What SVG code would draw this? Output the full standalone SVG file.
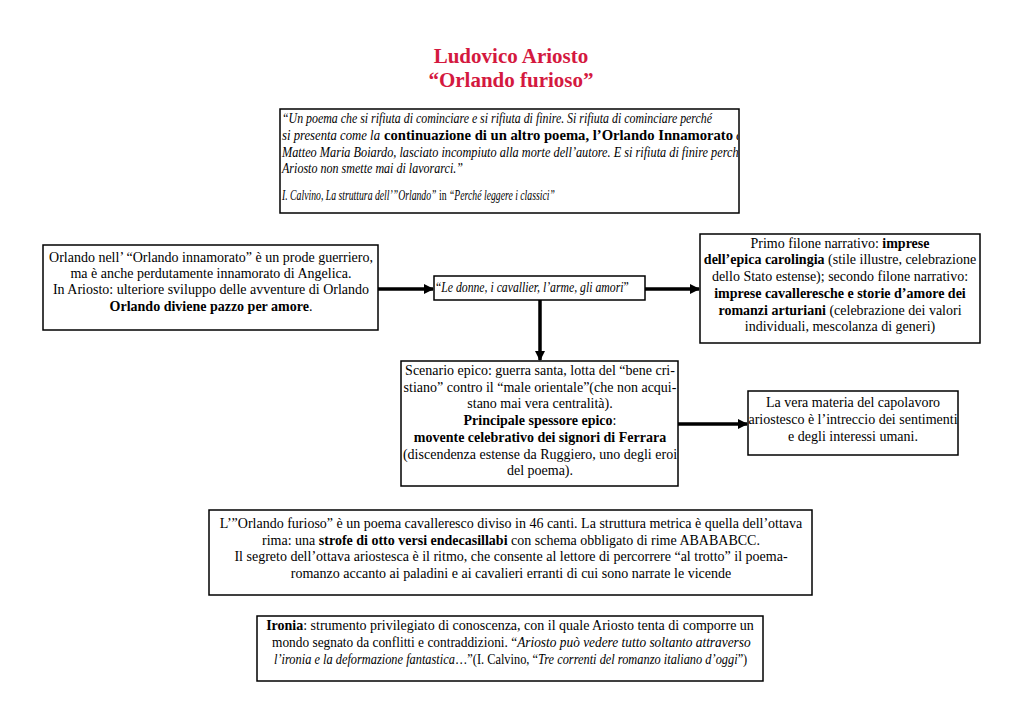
<svg xmlns="http://www.w3.org/2000/svg" width="1024" height="725" viewBox="0 0 1024 725">
<style>
.box{fill:#fff;stroke:#000;stroke-width:1.5}
.t{font-family:"Liberation Serif",serif;font-size:14px;fill:#000}
.c{text-anchor:middle}
.i{font-style:italic}
.b{font-weight:bold}
.title{font-family:"Liberation Serif",serif;font-size:21px;font-weight:bold;fill:#d4193f;text-anchor:middle}
.conn{stroke:#000;stroke-width:3.5;fill:none}
</style>
<defs>
<marker id="ah" markerWidth="10" markerHeight="10" refX="9" refY="5" orient="auto" markerUnits="userSpaceOnUse">
<path d="M0,0 L10,5 L0,10 Z" fill="#000"/>
</marker>
<clipPath id="qc"><rect x="281" y="110" width="457" height="102"/></clipPath>
</defs>
<rect width="1024" height="725" fill="#fff"/>
<g id="title">
<text class="title" x="511" y="63">Ludovico Ariosto</text>
<text class="title" x="511" y="87">“Orlando furioso”</text>
</g>
<g id="quote">
<rect class="box" x="280" y="109" width="459" height="104"/>
<g clip-path="url(#qc)">
<text class="t i" x="282" y="123" textLength="430" lengthAdjust="spacingAndGlyphs">“Un poema che si rifiuta di cominciare e si rifiuta di finire. Si rifiuta di cominciare perché</text>
<text class="t i" x="282" y="140" textLength="98" lengthAdjust="spacingAndGlyphs">si presenta come la</text>
<text class="t b" x="384" y="140" font-family="DejaVu Serif" font-size="13.5" textLength="349" lengthAdjust="spacingAndGlyphs">continuazione di un altro poema, l’Orlando Innamorato</text>
<text class="t i" x="736" y="140">di</text>
<text class="t i" x="282" y="157" textLength="462" lengthAdjust="spacingAndGlyphs">Matteo Maria Boiardo, lasciato incompiuto alla morte dell’autore. E si rifiuta di finire perché</text>
<text class="t i" x="282" y="173" textLength="181" lengthAdjust="spacingAndGlyphs">Ariosto non smette mai di lavorarci.”</text>
<text class="t i" x="0" y="0" font-size="10.5" transform="translate(282,200) scale(0.695,1)">I. Calvino, La struttura dell’”Orlando” <tspan font-style="normal">in</tspan> “Perché leggere i classici”</text>
</g>
</g>
<g id="orlando">
<rect class="box" x="43" y="245" width="335" height="85"/>
<text class="t c" x="211" y="262">Orlando nell’ “Orlando innamorato” è un prode guerriero,</text>
<text class="t c" x="211" y="278">ma è anche perdutamente innamorato di Angelica.</text>
<text class="t c" x="211" y="294">In Ariosto: ulteriore sviluppo delle avventure di Orlando</text>
<text class="t c" x="211" y="311"><tspan class="b">Orlando diviene pazzo per amore</tspan>.</text>
</g>
<g id="donne">
<rect class="box" x="434" y="276" width="211" height="24"/>
<text class="t" x="0" y="0" transform="translate(436,292) scale(0.84,1)">“<tspan class="i">Le donne, i cavallier, l’arme, gli amori</tspan>”</text>
</g>
<g id="filoni">
<rect class="box" x="700" y="234" width="280" height="109"/>
<text class="t c" x="840" y="248">Primo filone narrativo: <tspan class="b">imprese</tspan></text>
<text class="t c" x="840" y="264"><tspan class="b">dell’epica carolingia</tspan> (stile illustre, celebrazione</text>
<text class="t c" x="840" y="281">dello Stato estense); secondo filone narrativo:</text>
<text class="t c" x="840" y="298"><tspan class="b">imprese cavalleresche e storie d’amore dei</tspan></text>
<text class="t c" x="840" y="315"><tspan class="b">romanzi arturiani</tspan> (celebrazione dei valori</text>
<text class="t c" x="840" y="331">individuali, mescolanza di generi)</text>
</g>
<g id="scenario">
<rect class="box" x="401" y="361" width="277" height="125"/>
<text class="t c" x="540" y="375">Scenario epico: guerra santa, lotta del “bene cri-</text>
<text class="t c" x="540" y="392">stiano” contro il “male orientale”(che non acqui-</text>
<text class="t c" x="540" y="408">stano mai vera centralità).</text>
<text class="t c" x="540" y="425"><tspan class="b">Principale spessore epico</tspan>:</text>
<text class="t c b" x="540" y="442">movente celebrativo dei signori di Ferrara</text>
<text class="t c" x="540" y="459">(discendenza estense da Ruggiero, uno degli eroi</text>
<text class="t c" x="540" y="475">del poema).</text>
</g>
<g id="materia">
<rect class="box" x="748" y="391" width="210" height="64"/>
<text class="t c" x="853" y="407">La vera materia del capolavoro</text>
<text class="t c" x="853" y="424">ariostesco è l’intreccio dei sentimenti</text>
<text class="t c" x="853" y="441">e degli interessi umani.</text>
</g>
<g id="metrica">
<rect class="box" x="209" y="510" width="603" height="85"/>
<text class="t c" x="511" y="528">L’”Orlando furioso” è un poema cavalleresco diviso in 46 canti. La struttura metrica è quella dell’ottava</text>
<text class="t c" x="511" y="545">rima: una <tspan class="b">strofe di otto versi endecasillabi</tspan> con schema obbligato di rime ABABABCC.</text>
<text class="t c" x="511" y="561">Il segreto dell’ottava ariostesca è il ritmo, che consente al lettore di percorrere “al trotto” il poema-</text>
<text class="t c" x="511" y="578">romanzo accanto ai paladini e ai cavalieri erranti di cui sono narrate le vicende</text>
</g>
<g id="ironia">
<rect class="box" x="257" y="616" width="506" height="65"/>
<text class="t c" x="510" y="630"><tspan class="b">Ironia</tspan>: strumento privilegiato di conoscenza, con il quale Ariosto tenta di comporre un</text>
<text class="t" x="0" y="0" transform="translate(272,647) scale(0.955,1)">mondo segnato da conflitti e contraddizioni. “<tspan class="i">Ariosto può vedere tutto soltanto attraverso</tspan></text>
<text class="t" x="0" y="0" transform="translate(274,664) scale(0.884,1)"><tspan class="i">l’ironia e la deformazione fantastica</tspan>…”(I. Calvino, “<tspan class="i">Tre correnti del romanzo italiano d’oggi</tspan>”)</text>
</g>
<g id="connectors">
<line class="conn" x1="378" y1="289" x2="433" y2="289" marker-end="url(#ah)"/>
<line class="conn" x1="645" y1="289" x2="699" y2="289" marker-end="url(#ah)"/>
<line class="conn" x1="540" y1="300" x2="540" y2="360" marker-end="url(#ah)"/>
<line class="conn" x1="678" y1="424" x2="747" y2="424" marker-end="url(#ah)"/>
</g>
</svg>
